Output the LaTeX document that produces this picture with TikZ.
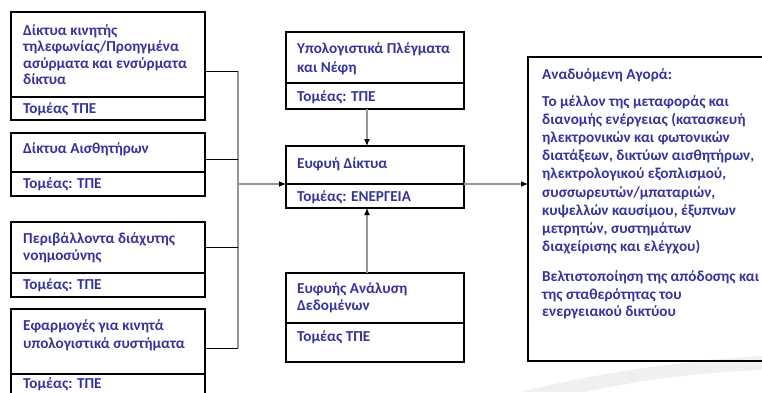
\documentclass[tikz,border=0pt]{standalone}
\usepackage{fontspec}
\setmainfont{Carlito}
\usetikzlibrary{arrows.meta,calc}
\definecolor{txtc}{RGB}{55,50,160}
\definecolor{busc}{RGB}{150,150,150}
\begin{document}
\begin{tikzpicture}[x=1pt,y=-1pt,
  box/.style={draw=black,line width=1.1pt,anchor=north west,inner sep=0pt,outer sep=0pt},
  lbl/.style={font=\fontsize{15.2}{17.5}\selectfont\bfseries,text=txtc,anchor=base west,inner sep=0pt,align=left},
  link/.style={draw=black,line width=1pt},
  arr/.style={draw=busc,line width=1.2pt,-{Latex[length=7pt,width=6pt,color=black]}}]
\useasboundingbox (0,0) rectangle (762,392);
\fill[black!6] (520,392) .. controls (600,372) and (690,360) .. (762,356) -- (762,392) -- cycle;
\fill[white] (585,392) .. controls (650,378) and (710,372) .. (762,370) -- (762,392) -- cycle;
% left column boxes
\node[box,minimum width=194pt,minimum height=85pt] (b1) at (11,12) {};
\node[box,minimum width=194pt,minimum height=23pt] (b1s) at (11,97) {};
\node[box,minimum width=194pt,minimum height=39pt] (b2) at (11,133) {};
\node[box,minimum width=194pt,minimum height=24pt] (b2s) at (11,172) {};
\node[box,minimum width=194pt,minimum height=51pt] (b3) at (11,222) {};
\node[box,minimum width=194pt,minimum height=24pt] (b3s) at (11,273) {};
\node[box,minimum width=194pt,minimum height=65pt] (b4) at (11,309) {};
\node[box,minimum width=194pt,minimum height=30pt] (b4s) at (11,374) {};
% middle column boxes
\node[box,minimum width=178pt,minimum height=51pt] (m1) at (286,32) {};
\node[box,minimum width=178pt,minimum height=26pt] (m1s) at (286,83) {};
\node[box,minimum width=178pt,minimum height=38pt] (e1) at (286,146) {};
\node[box,minimum width=178pt,minimum height=24pt] (e1s) at (286,184) {};
\node[box,minimum width=178pt,minimum height=50pt] (m3) at (286,273) {};
\node[box,minimum width=178pt,minimum height=39pt] (m3s) at (286,323) {};
% right box
\node[box,line width=1.5pt,minimum width=260pt,minimum height=304pt] (r) at (528,57) {};
% texts (anchor = baseline of the last line)
\node[lbl,font=\fontsize{15.2}{16.5}\selectfont\bfseries] (t1) at (23,84.5) {Δίκτυα κινητής\\τηλεφωνίας/Προηγμένα\\ασύρματα και ενσύρματα\\δίκτυα};
\node[lbl] (t1s) at (23,113.5) {Τομέας ΤΠΕ};
\node[lbl] (t2) at (23,153.5) {Δίκτυα Αισθητήρων};
\node[lbl] (t2s) at (23,188.5) {Τομέας: ΤΠΕ};
\node[lbl] (t3) at (23,260.5) {Περιβάλλοντα διάχυτης\\νοημοσύνης};
\node[lbl] (t3s) at (23,289.5) {Τομέας: ΤΠΕ};
\node[lbl] (t4) at (23,348) {Εφαρμογές για κινητά\\υπολογιστικά συστήματα};
\node[lbl] (t4s) at (23,388.5) {Τομέας: ΤΠΕ};
\node[lbl,font=\fontsize{15.2}{19.5}\selectfont\bfseries] (tm1) at (297,72.5) {Υπολογιστικά Πλέγματα\\και Νέφη};
\node[lbl] (tm1s) at (297,101.5) {Τομέας: ΤΠΕ};
\node[lbl] (te1) at (297,168) {Ευφυή Δίκτυα};
\node[lbl] (te1s) at (297,201) {Τομέας: ΕΝΕΡΓΕΙΑ};
\node[lbl,font=\fontsize{15.2}{17}\selectfont\bfseries] (tm3) at (297,310.5) {Ευφυής Ανάλυση\\Δεδομένων};
\node[lbl] (tm3s) at (297,341) {Τομέας ΤΠΕ};
\node[lbl] (tr0) at (542,79.5) {Αναδυόμενη Αγορά:};
\node[lbl,font=\fontsize{15.2}{18.1}\selectfont\bfseries] (tr1) at (542,251.3) {Το μέλλον της μεταφοράς και\\διανομής ενέργειας (κατασκευή\\ηλεκτρονικών και φωτονικών\\διατάξεων, δικτύων αισθητήρων,\\ηλεκτρολογικού εξοπλισμού,\\συσσωρευτών/μπαταριών,\\κυψελλών καυσίμου, έξυπνων\\μετρητών, συστημάτων\\διαχείρισης και ελέγχου)};
\node[lbl,font=\fontsize{15.2}{17.5}\selectfont\bfseries] (tr2) at (542,316.5) {Βελτιστοποίηση της απόδοσης και\\της σταθερότητας του\\ενεργειακού δικτύου};
% bus
\coordinate (j1) at (238,71);
\coordinate (j2) at (238,159);
\coordinate (j3) at (238,247);
\coordinate (j4) at (238,348);
\coordinate (jm) at (238,184);
\coordinate (ax) at (367,0);
\draw[busc,line width=1.8pt] (j1) -- (j4);
\draw[link] (b1.east |- j1) -- (j1);
\draw[link] (b2.east |- j2) -- (j2);
\draw[link] (b3.east |- j3) -- (j3);
\draw[link] (b4.east |- j4) -- (j4);
\draw[arr] (jm) -- (e1.south west);
\draw[arr] (e1.south east) -- (r.west |- e1.south east);
\draw[arr] (ax |- m1s.south) -- (ax |- e1.north);
\draw[arr] (ax |- m3.north) -- (ax |- e1s.south);
\end{tikzpicture}
\end{document}
